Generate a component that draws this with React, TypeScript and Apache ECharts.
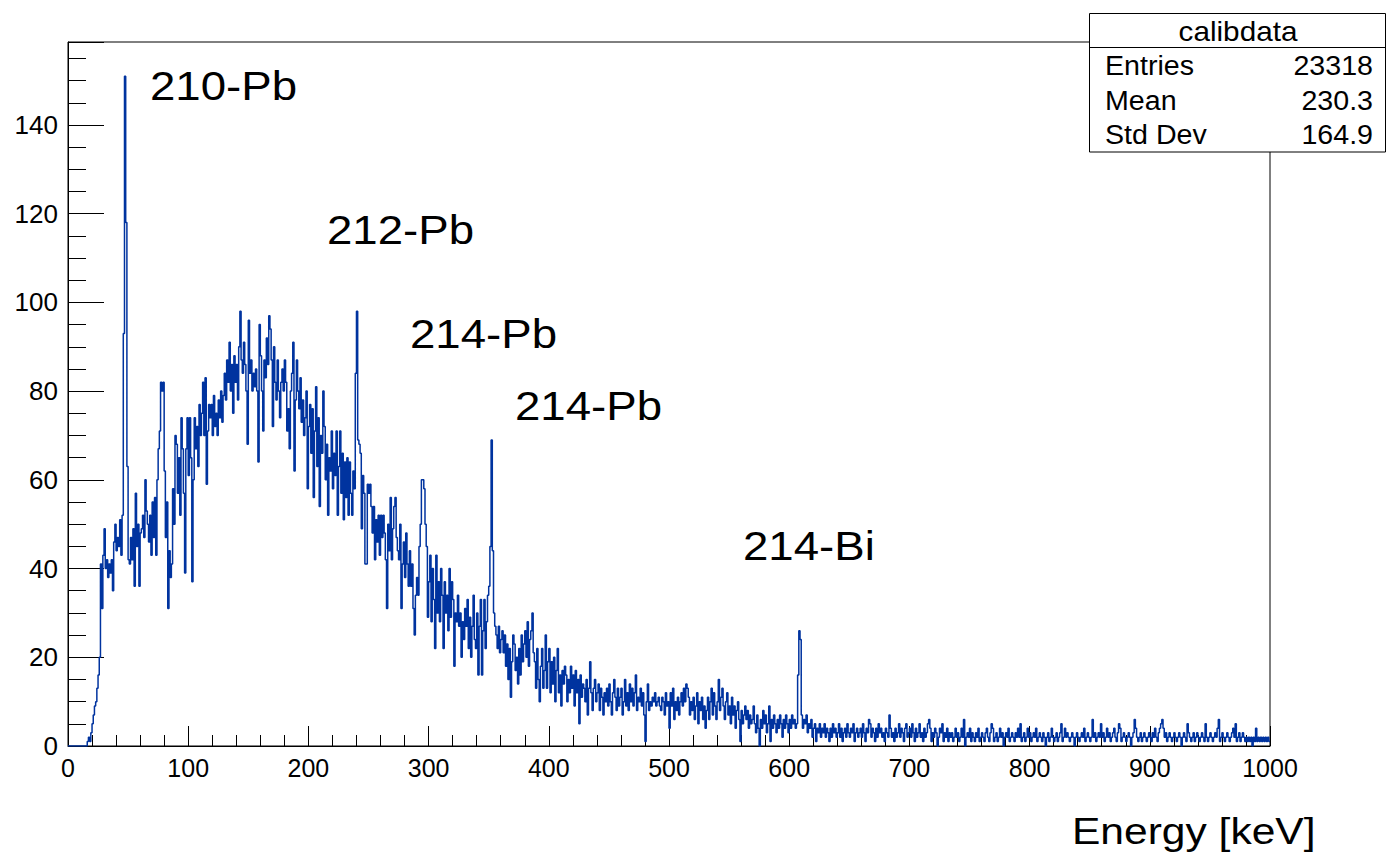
import React, { useEffect, useRef } from "react";
import * as echarts from "echarts";

// Histogram "calibdata": counts per 1 keV bin, bins [i, i+1) keV
const counts000 = [
  0, 0, 0, 0, 0, 0, 0, 0, 0, 0,
  0, 0, 0, 0, 0, 0, 1, 2, 1, 3,
  5, 7, 9, 10, 13, 16, 20, 41, 31, 43,
  49, 40, 42, 38, 41, 39, 42, 35, 46, 50,
  44, 47, 45, 51, 43, 52, 93, 151, 118, 63,
  42, 41, 47, 42, 49, 36, 57, 45, 50, 36,
  48, 49, 52, 47, 60, 53, 50, 46, 52, 43,
  55, 47, 56, 43, 60, 67, 71, 82, 80, 82,
  62, 47, 55, 31, 44, 38, 41, 58, 50, 70,
  68, 57, 65, 52, 74, 67, 57, 39, 67, 74,
];
const counts100 = [
  61, 74, 65, 37, 60, 74, 67, 72, 63, 77,
  70, 75, 82, 70, 83, 59, 71, 77, 74, 77,
  70, 79, 72, 75, 70, 78, 74, 80, 73, 79,
  84, 78, 87, 82, 91, 80, 86, 75, 88, 82,
  86, 78, 90, 98, 87, 84, 91, 86, 80, 68,
  96, 84, 87, 80, 84, 81, 85, 80, 64, 95,
  88, 80, 71, 87, 83, 92, 86, 97, 94, 87,
  72, 90, 82, 78, 87, 80, 74, 82, 85, 80,
  87, 82, 71, 76, 67, 80, 84, 91, 62, 78,
  87, 80, 76, 83, 73, 78, 70, 74, 80, 58,
];
const counts200 = [
  72, 77, 66, 76, 56, 71, 81, 63, 74, 54,
  70, 66, 80, 72, 60, 68, 52, 65, 62, 71,
  58, 66, 61, 71, 52, 63, 71, 57, 66, 51,
  64, 56, 65, 52, 64, 57, 52, 62, 58, 84,
  98, 69, 68, 66, 49, 61, 57, 41, 41, 59,
  57, 59, 54, 48, 54, 42, 51, 46, 52, 43,
  52, 47, 52, 48, 42, 31, 50, 44, 56, 42,
  49, 54, 56, 47, 44, 42, 50, 31, 41, 46,
  38, 48, 41, 36, 44, 36, 41, 31, 25, 34,
  38, 34, 45, 50, 60, 60, 58, 50, 45, 29,
];
const counts300 = [
  37, 43, 28, 40, 33, 22, 43, 30, 37, 28,
  40, 34, 22, 37, 30, 34, 26, 40, 29, 37,
  33, 18, 30, 28, 34, 27, 30, 20, 28, 24,
  31, 27, 33, 22, 29, 20, 27, 34, 24, 22,
  30, 16, 27, 33, 16, 26, 33, 22, 28, 34,
  36, 45, 69, 44, 30, 27, 25, 22, 27, 21,
  24, 26, 21, 25, 18, 23, 15, 22, 11, 19,
  25, 23, 17, 20, 14, 22, 16, 25, 19, 23,
  26, 20, 28, 18, 24, 26, 30, 21, 19, 13,
  22, 15, 10, 18, 22, 13, 17, 25, 13, 19,
];
const counts400 = [
  22, 12, 19, 14, 20, 10, 17, 22, 12, 16,
  9, 17, 14, 18, 16, 10, 15, 12, 18, 13,
  16, 9, 17, 12, 15, 5, 16, 11, 14, 13,
  10, 15, 7, 13, 19, 12, 8, 13, 15, 10,
  12, 14, 8, 13, 11, 7, 12, 10, 13, 9,
  14, 10, 7, 12, 15, 11, 8, 13, 9, 11,
  13, 7, 10, 15, 9, 12, 8, 14, 10, 13,
  9, 12, 16, 8, 11, 10, 13, 9, 12, 7,
  1, 10, 14, 8, 10, 9, 11, 10, 12, 9,
  10, 11, 9, 8, 11, 10, 7, 12, 9, 10,
];
const counts500 = [
  4, 12, 9, 13, 6, 10, 8, 11, 7, 10,
  12, 9, 13, 10, 14, 13, 11, 7, 10, 8,
  11, 6, 9, 12, 5, 10, 8, 11, 6, 9,
  4, 8, 11, 6, 10, 13, 7, 12, 9, 6,
  10, 15, 8, 11, 13, 9, 6, 10, 12, 7,
  9, 5, 11, 7, 9, 4, 8, 10, 6, 1,
  8, 5, 7, 9, 6, 8, 4, 7, 5, 6,
  9, 5, 3, 7, 4, 0, 6, 4, 8, 5,
  7, 3, 5, 9, 1, 6, 4, 7, 5, 3,
  6, 4, 7, 5, 2, 6, 4, 7, 5, 3,
];
const counts600 = [
  6, 4, 7, 5, 6, 4, 5, 16, 26, 24,
  7, 4, 6, 5, 7, 3, 5, 4, 6, 2,
  4, 5, 1, 4, 3, 5, 2, 4, 3, 5,
  2, 4, 3, 1, 4, 2, 5, 3, 4, 2,
  3, 5, 2, 4, 1, 3, 4, 2, 5, 3,
  2, 4, 3, 5, 1, 3, 4, 2, 3, 4,
  2, 5, 3, 1, 4, 3, 6, 5, 2, 4,
  3, 1, 4, 2, 5, 3, 4, 2, 3, 1,
  4, 3, 2, 7, 4, 2, 3, 1, 4, 2,
  3, 5, 2, 4, 3, 1, 4, 5, 2, 3,
];
const counts700 = [
  4, 2, 5, 3, 1, 4, 2, 3, 5, 2,
  3, 1, 4, 2, 3, 5, 6, 4, 1, 3,
  2, 4, 3, 0, 2, 4, 3, 5, 1, 3,
  2, 4, 1, 3, 2, 3, 1, 2, 4, 2,
  3, 1, 2, 4, 2, 6, 0, 2, 3, 2,
  4, 1, 3, 2, 1, 3, 2, 4, 1, 2,
  3, 2, 1, 3, 4, 2, 1, 3, 5, 4,
  1, 2, 3, 1, 2, 4, 2, 3, 0, 2,
  3, 2, 4, 1, 2, 3, 2, 1, 3, 2,
  4, 2, 5, 1, 2, 3, 1, 2, 4, 2,
];
const counts800 = [
  3, 1, 2, 3, 2, 4, 1, 2, 3, 2,
  1, 3, 2, 0, 2, 3, 1, 2, 4, 2,
  1, 2, 3, 1, 2, 3, 5, 1, 2, 4,
  2, 3, 2, 1, 2, 3, 2, 0, 2, 3,
  2, 1, 2, 3, 2, 4, 1, 2, 3, 2,
  1, 2, 6, 2, 3, 1, 2, 3, 2, 5,
  2, 3, 1, 2, 4, 2, 3, 1, 2, 3,
  4, 2, 1, 3, 5, 4, 1, 2, 3, 2,
  1, 2, 3, 2, 0, 2, 3, 6, 4, 2,
  1, 2, 3, 1, 2, 3, 2, 1, 2, 3,
];
const counts900 = [
  2, 1, 3, 2, 4, 2, 1, 3, 4, 5,
  6, 4, 2, 3, 1, 2, 3, 2, 1, 2,
  3, 2, 1, 2, 3, 2, 0, 2, 3, 2,
  1, 5, 3, 2, 1, 2, 3, 1, 2, 3,
  2, 1, 2, 3, 2, 1, 5, 2, 1, 2,
  3, 2, 1, 2, 3, 2, 4, 6, 1, 2,
  3, 2, 1, 2, 3, 2, 1, 2, 3, 4,
  2, 5, 1, 2, 3, 1, 2, 3, 2, 1,
  2, 1, 2, 1, 2, 0, 2, 1, 4, 1,
  2, 1, 2, 1, 2, 1, 2, 1, 2, 1,
];

const binWidth = 1; // keV
const xTicks = [0, 100, 200, 300, 400, 500, 600, 700, 800, 900, 1000];
const yTickLabels = [0, 20, 40, 60, 80, 100, 120, 140];

const peakLabels = ["210-Pb", "212-Pb", "214-Pb", "214-Pb", "214-Bi"];
const statsTitle = "calibdata";
const statsNames = ["Entries", "Mean", "Std Dev"];
const statsValues = ["23318", "230.3", "164.9"];
const xTitle = "Energy [keV]";

const FONT = "'Liberation Sans', Arial, Helvetica, sans-serif";

export default function App() {
  const ref = useRef<HTMLDivElement>(null);

  useEffect(() => {
    document.body.style.margin = "0";
    if (!ref.current) return;
    const chart = echarts.init(ref.current, undefined, { renderer: "svg" });

    const counts = [
      ...counts000, ...counts100, ...counts200, ...counts300, ...counts400,
      ...counts500, ...counts600, ...counts700, ...counts800, ...counts900,
    ];
    const data: number[][] = counts.map((v, i) => [i * binWidth, v]);
    data.push([counts.length * binWidth, counts[counts.length - 1]]);

    const yMax = 158.7;
    const plotLeft = 68;
    const plotTop = 42;
    const plotW = 1202;
    const plotH = 704;

    const labelPos = [
      { x: 150, y: 86 },
      { x: 327, y: 230 },
      { x: 410, y: 334 },
      { x: 515, y: 406 },
      { x: 743, y: 546 },
    ];

    const rowY = [66, 101, 135];

    const graphics: any[] = [];
    peakLabels.forEach((t, i) => {
      graphics.push({
        type: "text",
        x: labelPos[i].x,
        y: labelPos[i].y,
        scaleX: 1.14,
        z: 50,
        style: {
          text: t,
          fontSize: 40,
          fontFamily: FONT,
          fill: "#000",
          textVerticalAlign: "middle",
          textAlign: "left",
        },
      });
    });
    graphics.push({
      type: "text",
      x: 1072,
      y: 831,
      scaleX: 1.15,
      z: 50,
      style: {
        text: xTitle,
        fontSize: 37,
        fontFamily: FONT,
        fill: "#000",
        textVerticalAlign: "middle",
        textAlign: "left",
      },
    });
    // stats box
    graphics.push({
      type: "rect",
      z: 100,
      shape: { x: 1089.5, y: 13.5, width: 296, height: 138.5 },
      style: { fill: "#fff", stroke: "#000", lineWidth: 1 },
    });
    graphics.push({
      type: "line",
      z: 101,
      shape: { x1: 1089.5, y1: 47.5, x2: 1386, y2: 47.5 },
      style: { stroke: "#000", lineWidth: 1 },
    });
    graphics.push({
      type: "text",
      z: 102,
      x: 1238,
      y: 31,
      scaleX: 1.1,
      style: {
        text: statsTitle,
        fontSize: 27,
        fontFamily: FONT,
        fill: "#000",
        textAlign: "center",
        textVerticalAlign: "middle",
      },
    });
    statsNames.forEach((n, i) => {
      graphics.push({
        type: "text",
        z: 102,
        x: 1105,
        y: rowY[i],
        scaleX: 1.06,
        style: {
          text: n,
          fontSize: 27,
          fontFamily: FONT,
          fill: "#000",
          textAlign: "left",
          textVerticalAlign: "middle",
        },
      });
      graphics.push({
        type: "text",
        z: 102,
        x: 1373,
        y: rowY[i],
        scaleX: 1.06,
        style: {
          text: statsValues[i],
          fontSize: 27,
          fontFamily: FONT,
          fill: "#000",
          textAlign: "right",
          textVerticalAlign: "middle",
        },
      });
    });

    const tickStyle = { color: "#000", width: 1 };

    chart.setOption({
      animation: false,
      backgroundColor: "#fff",
      textStyle: { fontFamily: FONT },
      grid: {
        left: plotLeft,
        top: plotTop,
        width: plotW,
        height: plotH,
        show: true,
        borderColor: "#000",
        borderWidth: 1,
        containLabel: false,
      },
      xAxis: {
        type: "value",
        min: xTicks[0],
        max: xTicks[xTicks.length - 1],
        interval: 100,
        axisLine: { show: true, onZero: false, lineStyle: tickStyle },
        axisTick: { show: true, inside: true, length: 20, lineStyle: tickStyle },
        minorTick: { show: true, splitNumber: 5, length: 11, lineStyle: tickStyle },
        splitLine: { show: false },
        minorSplitLine: { show: false },
        axisLabel: {
          color: "#000",
          fontSize: 25,
          margin: 9,
          fontFamily: FONT,
          formatter: (v: number) => (xTicks.includes(v) ? String(v) : ""),
        },
      },
      yAxis: [
        {
          type: "value",
          min: 0,
          max: yMax,
          interval: 5,
          position: "left",
          axisLine: { show: true, onZero: false, lineStyle: tickStyle },
          axisTick: { show: true, inside: true, length: 18, lineStyle: tickStyle },
          splitLine: { show: false },
          axisLabel: {
            color: "#000",
            fontSize: 26,
            margin: 10,
            fontFamily: FONT,
            showMaxLabel: false,
            formatter: (v: number) => (yTickLabels.includes(v) ? String(v) : ""),
          },
        },
        {
          type: "value",
          min: 0,
          max: yMax,
          interval: 20,
          position: "left",
          offset: 0,
          axisLine: { show: false },
          axisTick: { show: true, inside: true, length: 36, lineStyle: tickStyle },
          splitLine: { show: false },
          axisLabel: { show: false },
        },
      ],
      series: [
        {
          type: "line",
          name: statsTitle,
          data,
          step: "end",
          showSymbol: false,
          symbol: "none",
          clip: true,
          lineStyle: { color: "#00339f", width: 1.5 },
          yAxisIndex: 0,
        },
      ],
      graphic: graphics,
    });

    return () => chart.dispose();
  }, []);

  return <div ref={ref} style={{ width: 1386, height: 853 }} />;
}
